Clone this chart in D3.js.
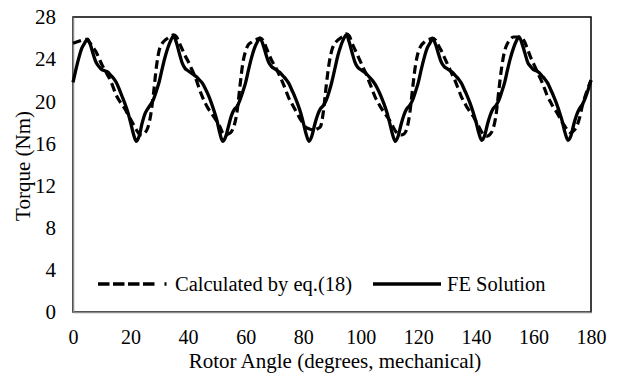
<!DOCTYPE html>
<html>
<head>
<meta charset="utf-8">
<script src="https://cdn.jsdelivr.net/npm/d3@7"></script>
<style>
  html, body { margin: 0; padding: 0; background: #fff; }
  svg text { font-family: "Liberation Serif", "Times New Roman", "DejaVu Serif", serif !important; fill: #000; }
</style>
</head>
<body>
<div id="chart"></div>
<script>
// rotor angle, degrees mechanical (1 degree steps)
var angles = d3.range(0, 181, 1)

// FE solution torque (Nm), one row per 30 degree period
var feTorque = [
  21.8, 23.0, 24.1, 25.0, 25.5, 25.9, 25.4, 24.5, 23.7, 23.3, 23.0, 22.9, 22.8, 22.5, 22.2, 21.8, 21.2, 20.5, 19.8, 19.0, 18.0, 16.9, 16.2, 16.7, 17.9, 18.8, 19.3, 19.7, 20.2, 21.0,
  21.9, 23.1, 24.2, 25.1, 25.8, 26.2, 25.5, 24.5, 23.6, 23.1, 22.9, 22.7, 22.5, 22.3, 22.0, 21.7, 21.2, 20.6, 19.9, 19.1, 18.2, 17.0, 16.2, 16.6, 17.6, 18.6, 19.2, 19.5, 20.1, 20.9,
  21.8, 23.0, 24.1, 25.0, 25.6, 26.0, 25.4, 24.5, 23.7, 23.3, 23.1, 22.9, 22.7, 22.4, 22.1, 21.7, 21.1, 20.5, 19.8, 19.0, 18.0, 16.9, 16.2, 16.7, 17.8, 18.7, 19.3, 19.6, 20.1, 20.9,
  21.9, 23.1, 24.3, 25.2, 25.9, 26.3, 25.6, 24.6, 23.7, 23.2, 23.0, 22.8, 22.6, 22.3, 22.0, 21.6, 21.1, 20.5, 19.8, 19.0, 18.0, 16.9, 16.2, 16.7, 17.8, 18.7, 19.3, 19.6, 20.1, 20.9,
  21.8, 23.0, 24.1, 25.0, 25.5, 25.9, 25.4, 24.5, 23.7, 23.3, 23.1, 22.9, 22.7, 22.4, 22.1, 21.7, 21.1, 20.5, 19.8, 19.0, 18.1, 17.0, 16.3, 16.7, 17.8, 18.7, 19.3, 19.6, 20.1, 20.9,
  21.8, 23.0, 24.1, 25.0, 25.7, 26.1, 25.5, 24.6, 23.7, 23.3, 23.0, 22.9, 22.7, 22.4, 22.1, 21.7, 21.1, 20.5, 19.8, 19.0, 18.1, 17.0, 16.3, 16.7, 17.8, 18.7, 19.3, 19.7, 20.3, 21.1,
  22.0
]

// torque calculated by eq.(18) (Nm)
var calcTorque = [
  25.5, 25.6, 25.7, 25.8, 25.9, 25.8, 25.5, 25.1, 24.7, 24.1, 23.5, 23.0, 22.5, 22.0, 21.3, 20.6, 20.1, 19.7, 19.3, 18.8, 18.3, 17.8, 17.3, 16.9, 16.8, 17.0, 17.5, 18.7, 20.8, 23.3,
  24.9, 25.5, 25.8, 26.0, 26.2, 26.3, 26.1, 25.5, 24.9, 24.3, 23.8, 23.2, 22.6, 21.9, 21.1, 20.4, 19.8, 19.3, 18.9, 18.5, 18.1, 17.6, 17.0, 16.8, 16.9, 17.1, 17.7, 19.0, 21.4, 23.6,
  24.8, 25.4, 25.6, 25.8, 25.9, 26.0, 25.8, 25.2, 24.5, 23.9, 23.4, 22.9, 22.3, 21.7, 21.0, 20.3, 19.8, 19.3, 18.8, 18.3, 17.9, 17.5, 17.4, 17.3, 17.3, 17.4, 17.6, 19.0, 21.5, 23.6,
  24.9, 25.5, 25.8, 26.0, 26.2, 26.4, 26.2, 25.5, 24.9, 24.3, 23.7, 23.1, 22.5, 21.8, 21.1, 20.4, 19.9, 19.4, 19.0, 18.6, 18.2, 17.7, 17.2, 16.9, 16.8, 16.9, 17.4, 18.8, 21.2, 23.4,
  24.7, 25.3, 25.6, 25.8, 25.9, 26.0, 25.8, 25.3, 24.8, 24.2, 23.6, 23.0, 22.4, 21.8, 21.1, 20.4, 19.9, 19.4, 19.0, 18.6, 18.1, 17.6, 17.1, 16.8, 16.7, 16.9, 17.4, 18.7, 21.1, 23.3,
  24.8, 25.5, 25.9, 26.1, 26.1, 26.1, 26.0, 25.6, 24.9, 24.2, 23.6, 23.0, 22.4, 21.8, 21.1, 20.4, 19.9, 19.4, 19.0, 18.5, 18.0, 17.6, 17.2, 17.0, 17.2, 17.6, 18.4, 19.6, 20.5, 21.3,
  22.0
]

var xTicks = [0, 20, 40, 60, 80, 100, 120, 140, 160, 180]
var yTicks = [0, 4, 8, 12, 16, 20, 24, 28]

var width = 620
var height = 373
var margin = { top: 17, right: 29, bottom: 61, left: 73 }
var innerW = width - margin.left - margin.right
var innerH = height - margin.top - margin.bottom

var svg = d3
  .select('#chart')
  .append('svg')
  .attr('width', width)
  .attr('height', height)

svg.append('rect').attr('width', width).attr('height', height).attr('fill', '#fff')

var g = svg
  .append('g')
  .attr('transform', 'translate(' + margin.left + ',' + margin.top + ')')

var x = d3.scaleLinear().domain([0, 180]).range([0, innerW])
var y = d3.scaleLinear().domain([0, 28]).range([innerH, 0])

// plot border: black top/right, grey axes left/bottom
g.append('rect')
  .attr('width', innerW)
  .attr('height', innerH)
  .attr('fill', 'none')
  .attr('stroke', '#000')
  .attr('stroke-width', 1.5)

var xAxis = g
  .append('g')
  .attr('transform', 'translate(0,' + innerH + ')')
  .call(d3.axisBottom(x).tickValues(xTicks).tickSize(0).tickPadding(18))
xAxis.attr('font-family', null).attr('font-size', null)
xAxis.select('.domain').attr('stroke', '#8c8c8c').attr('stroke-width', 1.5)
xAxis.selectAll('text').style('font-size', '20px')

var yAxis = g
  .append('g')
  .call(d3.axisLeft(y).tickValues(yTicks).tickSize(0).tickPadding(17))
yAxis.attr('font-family', null).attr('font-size', null)
yAxis.select('.domain').attr('stroke', '#8c8c8c').attr('stroke-width', 1.5)
yAxis.selectAll('text').style('font-size', '21px')

var lineOf = function(series) {
  return d3
    .line()
    .x(function(d, i) { return x(angles[i]) })
    .y(function(d) { return y(d) })
    .curve(d3.curveMonotoneX)(series)
}

g.append('path')
  .attr('d', lineOf(calcTorque))
  .attr('fill', 'none')
  .attr('stroke', '#000')
  .attr('stroke-width', 3.2)
  .attr('stroke-dasharray', '8.5,4.5')

g.append('path')
  .attr('d', lineOf(feTorque))
  .attr('fill', 'none')
  .attr('stroke', '#000')
  .attr('stroke-width', 3.3)
  .attr('stroke-linejoin', 'round')

// legend
var legY = 284
svg.append('line')
  .attr('x1', 98).attr('x2', 167.5)
  .attr('y1', legY).attr('y2', legY)
  .attr('stroke', '#000')
  .attr('stroke-width', 3.5)
  .attr('stroke-dasharray', '11.5,3.5,11.5,3.5,11.5,3.5,11.5,10,2')
svg.append('text')
  .attr('x', 175).attr('y', legY + 7)
  .style('font-size', '20.5px')
  .text('Calculated by eq.(18)')
svg.append('line')
  .attr('x1', 373).attr('x2', 441)
  .attr('y1', legY).attr('y2', legY)
  .attr('stroke', '#000')
  .attr('stroke-width', 3.5)
svg.append('text')
  .attr('x', 447).attr('y', legY + 7)
  .style('font-size', '20.5px')
  .text('FE Solution')

// axis titles
svg.append('text')
  .attr('x', 335)
  .attr('y', 368)
  .attr('text-anchor', 'middle')
  .style('font-size', '21px')
  .text('Rotor Angle (degrees, mechanical)')

svg.append('text')
  .attr('transform', 'translate(30,166) rotate(-90)')
  .attr('text-anchor', 'middle')
  .style('font-size', '21px')
  .text('Torque (Nm)')
</script>
</body>
</html>
